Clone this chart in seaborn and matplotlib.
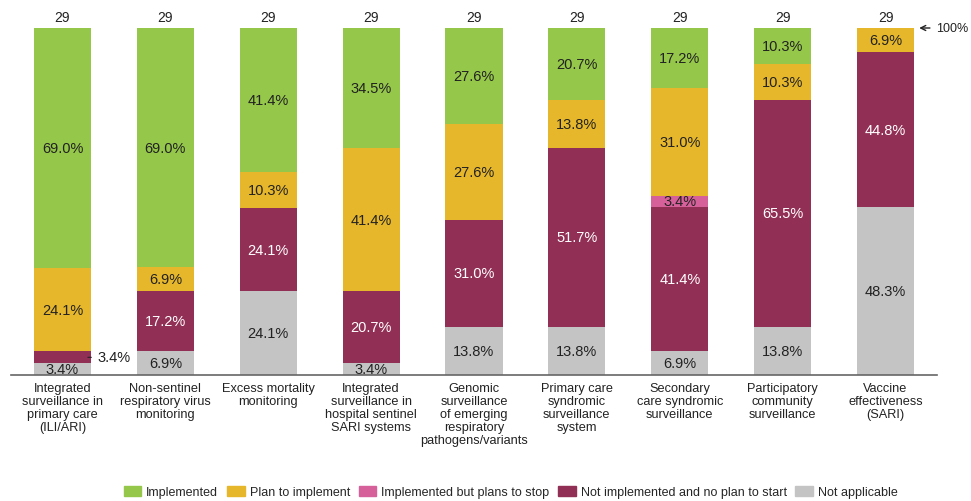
import seaborn as sns
import matplotlib.pyplot as plt
import numpy as np
import pandas as pd

categories = [
    'Integrated\nsurveillance in\nprimary care\n(ILI/ARI)',
    'Non-sentinel\nrespiratory virus\nmonitoring',
    'Excess mortality\nmonitoring',
    'Integrated\nsurveillance in\nhospital sentinel\nSARI systems',
    'Genomic\nsurveillance\nof emerging\nrespiratory\npathogens/variants',
    'Primary care\nsyndromic\nsurveillance\nsystem',
    'Secondary\ncare syndromic\nsurveillance',
    'Participatory\ncommunity\nsurveillance',
    'Vaccine\neffectiveness\n(SARI)',
]
n_countries = [29, 29, 29, 29, 29, 29, 29, 29, 29]

# bottom to top
not_applicable = [3.4, 6.9, 24.1, 3.4, 13.8, 13.8, 6.9, 13.8, 48.3]
not_implemented = [3.4, 17.2, 24.1, 20.7, 31.0, 51.7, 41.4, 65.5, 44.8]
plans_to_stop = [0, 0, 0, 0, 0, 0, 3.4, 0, 0]
plan_to_implement = [24.1, 6.9, 10.3, 41.4, 27.6, 13.8, 31.0, 10.3, 6.9]
implemented = [69.0, 69.0, 41.4, 34.5, 27.6, 20.7, 17.2, 10.3, 0]

series = [
    ('Not applicable', not_applicable, '#c4c4c4', '#222222'),
    ('Not implemented and no plan to start', not_implemented, '#922f55', 'white'),
    ('Implemented but plans to stop', plans_to_stop, '#d6619a', '#222222'),
    ('Plan to implement', plan_to_implement, '#e6b72b', '#222222'),
    ('Implemented', implemented, '#95c74a', '#222222'),
]

sns.set_theme(style='white')
plt.rcParams['font.family'] = ['Liberation Sans', 'DejaVu Sans']

fig = plt.figure(figsize=(9.71, 5.02), dpi=100)
ax = fig.add_axes([11 / 971, 1 - 376 / 502, 926 / 971, 347 / 502])

df = pd.DataFrame({name: vals for name, vals, _, _ in series})
df['category'] = categories
cum = df[[s[0] for s in series]].cumsum(axis=1)

# draw cumulative bars from the top layer down so each overlays the next
for name, vals, color, _ in reversed(series):
    sns.barplot(x=df['category'], y=cum[name], color=color, width=0.555,
                saturation=1, linewidth=0, ax=ax, order=categories)

# segment labels
for i in range(len(categories)):
    bottom = 0
    for name, vals, color, tcolor in series:
        v = vals[i]
        if v > 0:
            mid = bottom + v / 2
            if i == 0 and name.startswith('Not implemented'):
                ax.annotate(f'{v:.1f}%', xy=(0.22, mid), xytext=(0.34, mid),
                            va='center', ha='left', fontsize=10.5, color='#222222',
                            arrowprops=dict(arrowstyle='-', color='#222222', lw=0.8))
            else:
                ax.text(i, mid, f'{v:.1f}%', ha='center', va='center',
                        fontsize=10.5, color=tcolor)
        bottom += v
    ax.text(i, 103.2, str(n_countries[i]), ha='center', va='center',
            fontsize=10, color='#222222')

ax.annotate('100%', xy=(8.3, 100), xytext=(8.49, 100), va='center', ha='left',
            fontsize=9, color='#222222', annotation_clip=False,
            arrowprops=dict(arrowstyle='->', color='#222222', lw=1))

ax.set_xlim(-0.5, 8.5)
ax.set_ylim(0, 100)
ax.set_xlabel('')
ax.set_ylabel('')
ax.set_yticks([])
ax.tick_params(axis='x', length=0, pad=5)
for lbl in ax.get_xticklabels():
    lbl.set_fontsize(9.2)
    lbl.set_linespacing(1.1)
    lbl.set_color('#222222')
for s in ['top', 'right', 'left']:
    ax.spines[s].set_visible(False)
ax.spines['bottom'].set_color('#666666')
ax.spines['bottom'].set_linewidth(1.2)

handles = [plt.Rectangle((0, 0), 1, 1, color=c) for _, _, c, _ in reversed(series)]
labels = [n for n, _, _, _ in reversed(series)]
fig.legend(handles, labels, loc='center', bbox_to_anchor=(0.526, 0.018), ncol=5,
           frameon=False, fontsize=9, handlelength=1.4, handleheight=0.9,
           handletextpad=0.4, columnspacing=0.7)

fig.savefig('out.png', dpi=100)
